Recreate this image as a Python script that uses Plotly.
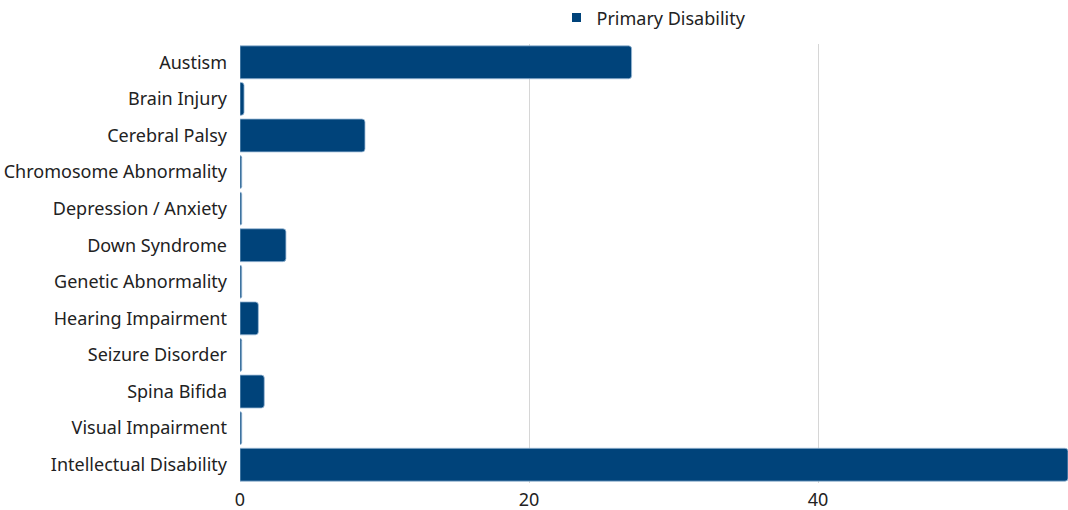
import plotly.graph_objects as go

# Share of participants by primary disability
categories = [
    "Austism",
    "Brain Injury",
    "Cerebral Palsy",
    "Chromosome Abnormality",
    "Depression / Anxiety",
    "Down Syndrome",
    "Genetic Abnormality",
    "Hearing Impairment",
    "Seizure Disorder",
    "Spina Bifida",
    "Visual Impairment",
    "Intellectual Disability",
]
values = [27.1, 0.28, 8.65, 0.12, 0.12, 3.18, 0.12, 1.27, 0.12, 1.68, 0.12, 57.3]
x_ticks = [0, 20, 40]

font_family = "Noto Sans, Open Sans, sans-serif"
bar_color = "#00437a"
text_color = "#222222"

fig = go.Figure()
fig.add_trace(
    go.Bar(
        x=values,
        y=categories,
        orientation="h",
        name="Primary Disability",
        marker=dict(color=bar_color, line=dict(color="#9dbbd8", width=0.8)),
        showlegend=False,
    )
)
# legend entry drawn with a small square swatch
fig.add_trace(
    go.Scatter(
        x=[None],
        y=[None],
        mode="markers",
        name="Primary Disability",
        marker=dict(symbol="square", size=9, color=bar_color),
        showlegend=True,
    )
)

fig.update_layout(
    width=1068,
    height=510,
    margin=dict(l=240, r=0, t=44, b=27, autoexpand=False),
    paper_bgcolor="white",
    plot_bgcolor="white",
    font=dict(family=font_family, size=18, color=text_color),
    bargap=0.1,
    barcornerradius=3,
    legend=dict(
        orientation="h",
        x=0.50,
        xanchor="center",
        yref="container",
        y=0.965,
        yanchor="middle",
        font=dict(size=18, color=text_color),
        itemwidth=30,
    ),
)

fig.update_xaxes(
    range=[0, max(values)],
    tickvals=x_ticks,
    showgrid=True,
    gridcolor="#d6d6d6",
    gridwidth=1,
    zeroline=False,
    showline=False,
    ticks="",
    ticklabelstandoff=4,
    tickfont=dict(size=18),
)
fig.update_yaxes(
    autorange="reversed",
    showgrid=False,
    ticks="",
    ticklabelstandoff=12,
    automargin=False,
    tickfont=dict(size=18),
)

fig.write_html("out.html")
